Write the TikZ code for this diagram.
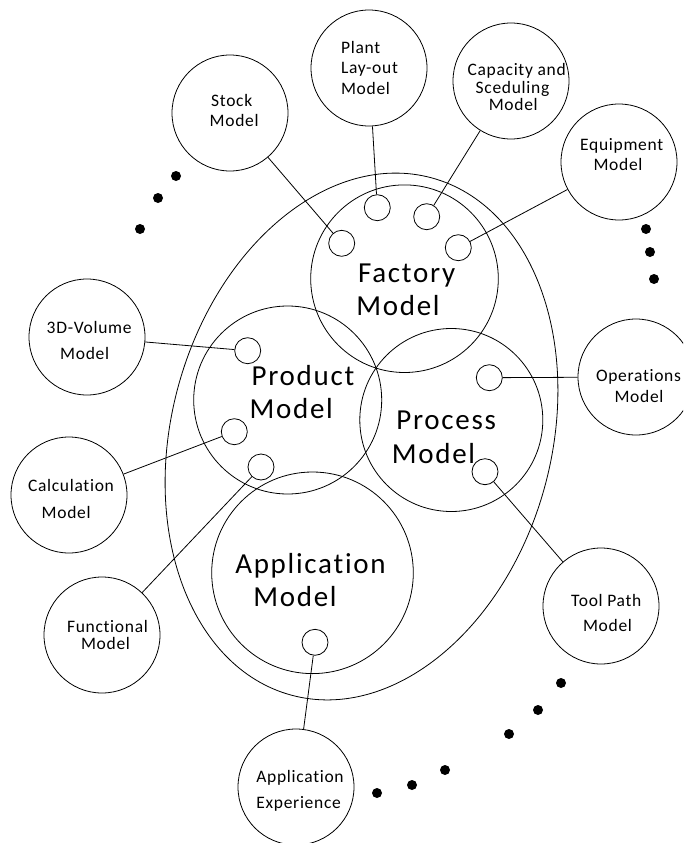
\documentclass[tikz,border=0pt]{standalone}
\usepackage{fontspec}
\setmainfont{Carlito}
\newfontfamily\bigfont{Carlito}[LetterSpace=6,Ligatures={NoCommon}]
\newfontfamily\smallfont{Carlito}[LetterSpace=4,Ligatures={NoCommon}]
\begin{document}
\begin{tikzpicture}[x=1pt,y=-1pt,
  line width=0.8pt,
  core/.style={circle,draw,inner sep=0pt},
  bigc/.style={core},
  port/.style={circle,draw,fill=white,inner sep=0pt,minimum size=26pt},
  outer/.style={circle,draw,inner sep=0pt,minimum size=116pt},
  bigtxt/.style={font=\fontsize{29}{32}\selectfont\bigfont,inner sep=0pt,anchor=base},
  smalltxt/.style={font=\fontsize{17.5}{20}\selectfont\smallfont,inner sep=0pt,anchor=base},
  link/.style={line width=0.8pt},
  dot/.style={fill=black}
]
\clip (0,0) rectangle (683,843);
\fill[white] (0,0) rectangle (683,843);

% big ellipse
\draw[rotate around={-15.2:(361.5,436.5)}] (361.5,436.5) ellipse (190 and 268);

% core circles
\node[bigc,minimum size=187.6pt] (factory) at (404.5,278.7) {};
\node[bigc,minimum size=188pt] (product) at (287.7,400) {};
\node[bigc,minimum size=183pt] (process) at (451.3,420) {};
\node[bigc,minimum size=201.6pt] (application) at (312.5,572.8) {};

% outer circles
\node[outer] (stock) at (230,113) {};
\node[outer] (plant) at (369,68) {};
\node[outer] (capacity) at (511,81) {};
\node[outer] (equipment) at (619,162) {};
\node[outer] (operations) at (636,377) {};
\node[outer] (volume) at (87,337) {};
\node[outer] (calculation) at (69,495) {};
\node[outer] (functional) at (102,635) {};
\node[outer] (toolpath) at (601,606) {};
\node[outer] (appexp) at (296,787) {};

% ports
\node[port] (pStock) at (341.7,243.3) {};
\node[port] (pPlant) at (377.3,207.7) {};
\node[port] (pCap) at (426.7,216.7) {};
\node[port] (pEquip) at (458.3,247.7) {};
\node[port] (pVol) at (247.7,350.7) {};
\node[port] (pCalc) at (234.3,431.7) {};
\node[port] (pFunc) at (261,467) {};
\node[port] (pOper) at (489.3,377.7) {};
\node[port] (pTool) at (485,471.7) {};
\node[port] (pApp) at (315,642.3) {};

% connectors
\draw[link] (pStock) -- (stock);
\draw[link] (pPlant) -- (plant);
\draw[link] (pCap) -- (capacity);
\draw[link] (pEquip) -- (equipment);
\draw[link] (pVol) -- (volume);
\draw[link] (pCalc) -- (calculation);
\draw[link] (pFunc) -- (functional);
\draw[link] (pOper) -- (operations);
\draw[link] (pTool) -- (toolpath);
\draw[link] (pApp) -- (appexp);

% big labels
\node[bigtxt] (facA) at (406.7,282.7) {Factory};
\node[bigtxt] (facB) at (398,315) {Model};
\node[bigtxt] (proA) at (303,385.7) {Product};
\node[bigtxt] (proB) at (291.2,418.3) {Model};
\node[bigtxt] (prcA) at (446.2,429) {Process};
\node[bigtxt] (prcB) at (433.5,463.3) {Model};
\node[bigtxt] (appA) at (310.5,573.3) {Application};
\node[bigtxt] (appB) at (295,606.7) {Model};

% small labels
\node[smalltxt] (stkA) at (231.7,106.7) {Stock};
\node[smalltxt] (stkB) at (234.2,126) {Model};
\node[smalltxt,anchor=base west] (plA) at (340.7,53.3) {Plant};
\node[smalltxt,anchor=base west] (plB) at (340.7,74) {Lay-out};
\node[smalltxt,anchor=base west] (plC) at (340.7,94) {Model};
\node[smalltxt] (capA) at (516.7,75) {Capacity and};
\node[smalltxt] (capB) at (512.5,93.3) {Sceduling};
\node[smalltxt] (capC) at (513.3,110.7) {Model};
\node[smalltxt] (eqA) at (621.7,150.7) {Equipment};
\node[smalltxt] (eqB) at (618,170) {Model};
\node[smalltxt] (opA) at (638.5,381) {Operations};
\node[smalltxt] (opB) at (639,402) {Model};
\node[smalltxt] (volA) at (89.2,333.3) {3D-Volume};
\node[smalltxt] (volB) at (84.7,359.3) {Model};
\node[smalltxt] (calA) at (71,491.7) {Calculation};
\node[smalltxt] (calB) at (66.2,518.3) {Model};
\node[smalltxt] (fnA) at (107.5,632.5) {Functional};
\node[smalltxt] (fnB) at (105.5,649.5) {Model};
\node[smalltxt] (tpA) at (606.3,606) {Tool Path};
\node[smalltxt] (tpB) at (607.5,631) {Model};
\node[smalltxt,anchor=base west] (aeA) at (256,782.3) {Application};
\node[smalltxt,anchor=base west] (aeB) at (256,808.3) {Experience};

% dots
\foreach \p in {(176,176),(158,198),(140,229),
                (646,229),(650,252),(654,279),
                (561,683),(538,710),(509,734),(445,770),(412,785),(377,793)}
  \fill[dot] \p circle (5);
\end{tikzpicture}
\end{document}
